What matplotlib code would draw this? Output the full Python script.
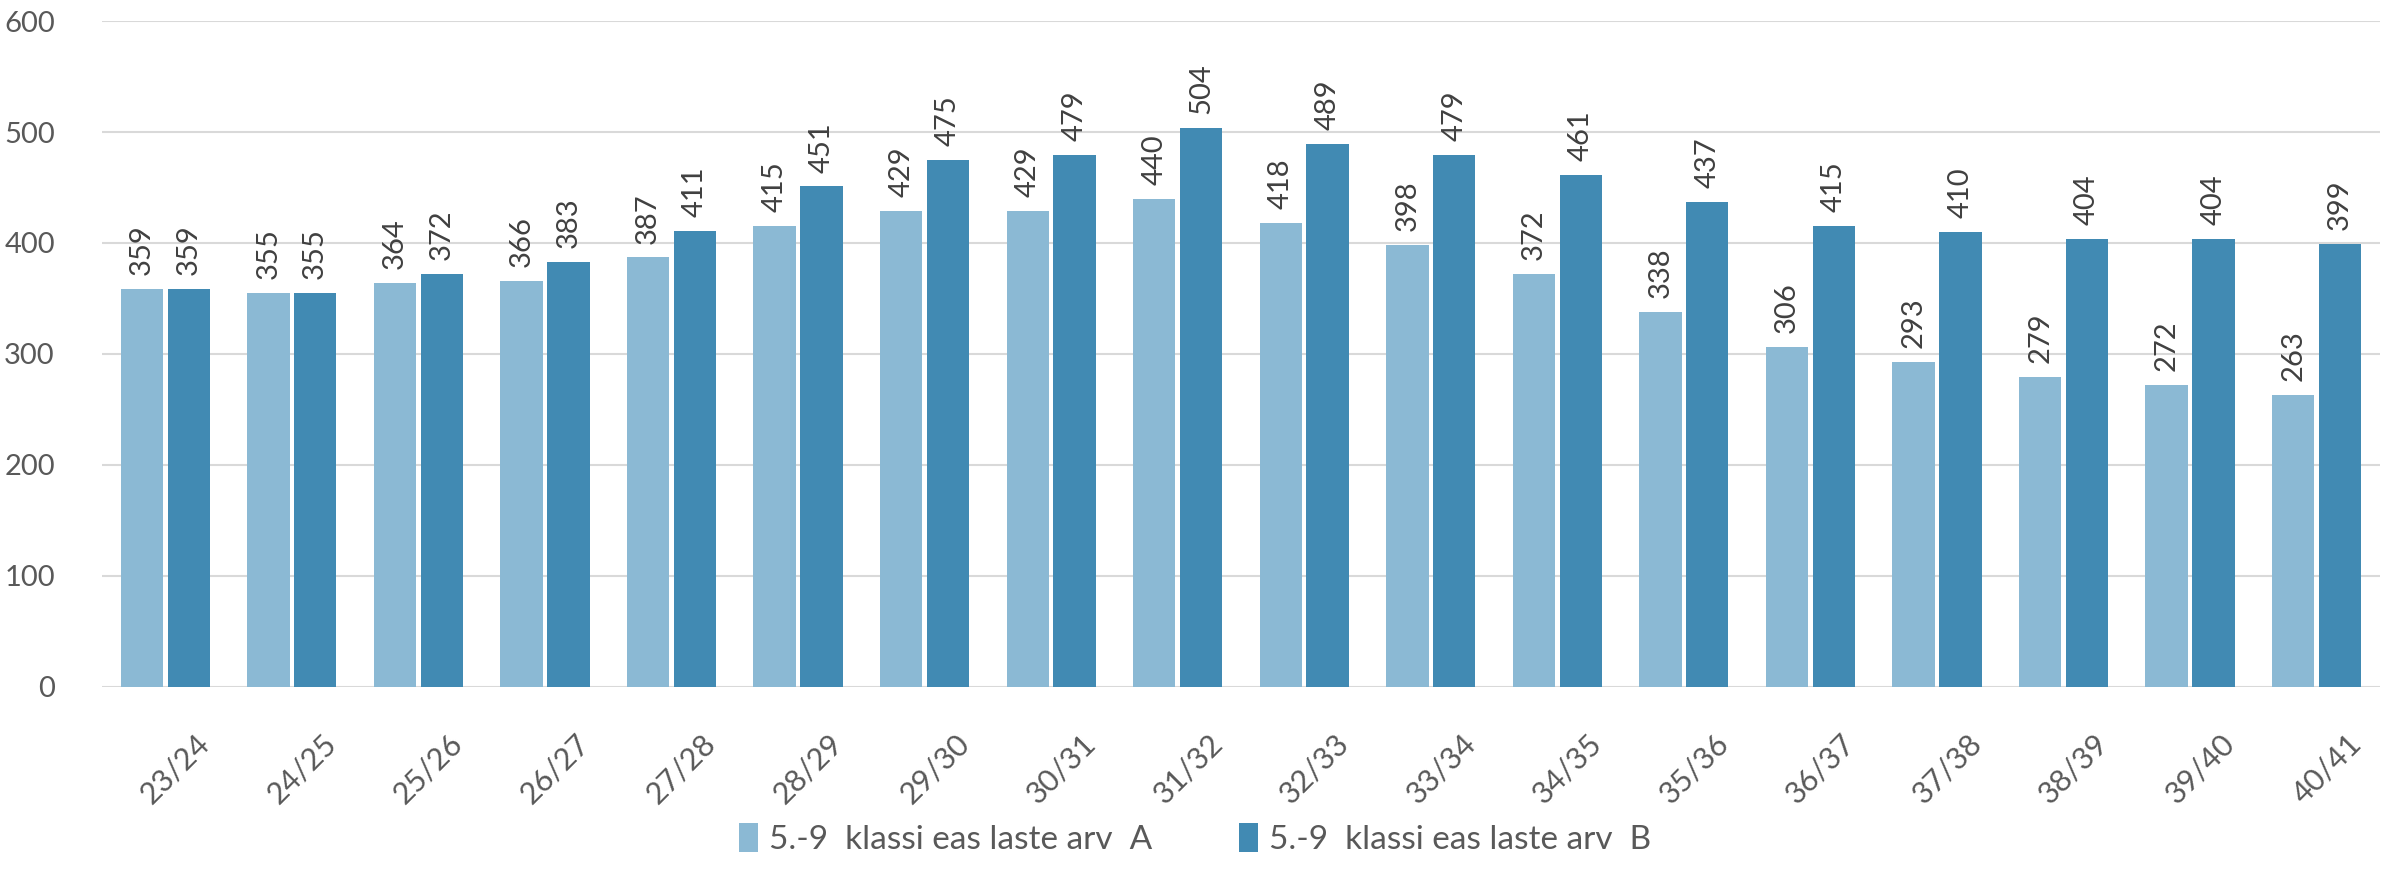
import numpy as np
import matplotlib
matplotlib.use("Agg")
import matplotlib.pyplot as plt
import matplotlib.transforms as mtransforms

# data
categories = ["23/24", "24/25", "25/26", "26/27", "27/28", "28/29", "29/30", "30/31", "31/32",
              "32/33", "33/34", "34/35", "35/36", "36/37", "37/38", "38/39", "39/40", "40/41"]
series_a = [359, 355, 364, 366, 387, 415, 429, 429, 440, 418, 398, 372, 338, 306, 293, 279, 272, 263]
series_b = [359, 355, 372, 383, 411, 451, 475, 479, 504, 489, 479, 461, 437, 415, 410, 404, 404, 399]
label_a = "5.-9  klassi eas laste arv  A"
label_b = "5.-9  klassi eas laste arv  B"

plt.rcParams['font.family'] = ['Lato', 'DejaVu Sans']
text_color = '#595959'

fig = plt.figure(figsize=(23.95, 8.72), dpi=100)
ax = fig.add_axes([0.0426, 0.2122, 0.9511, 0.7637])

x = np.arange(len(categories))
w = 0.335
off = 0.185
bars_a = ax.bar(x - off, series_a, width=w, color='#8BB9D4', label=label_a, zorder=3)
bars_b = ax.bar(x + off, series_b, width=w, color='#418AB3', label=label_b, zorder=3)

for bars in (bars_a, bars_b):
    for b in bars:
        ax.annotate(str(int(b.get_height())), (b.get_x() + b.get_width() / 2, b.get_height()),
                    xytext=(0, 10), textcoords='offset points', rotation=90,
                    ha='center', va='bottom', fontsize=21, color='#404040')

ax.set_ylim(0, 600)
ax.set_xlim(-0.5, len(categories) - 0.5)
ax.set_yticks(range(0, 601, 100))
ax.grid(axis='y', color='#D9D9D9', linewidth=1.5, zorder=0)
for s in ax.spines.values():
    s.set_visible(False)
ax.tick_params(axis='both', length=0, labelsize=21, colors=text_color)
ax.tick_params(axis='y', pad=34)
ax.set_xticks(x)
ax.set_xticklabels(categories, rotation=45, ha='right', rotation_mode='anchor', fontsize=22)
ax.tick_params(axis='x', pad=30)
shift = mtransforms.ScaledTranslation(30 / 100, 0, fig.dpi_scale_trans)
for lbl in ax.get_xticklabels():
    lbl.set_transform(lbl.get_transform() + shift)

ax.legend(loc='center', bbox_to_anchor=(0.48, -0.228), ncol=2, frameon=False,
          fontsize=24, labelcolor=text_color, handlelength=0.55, handleheight=1.0,
          handletextpad=0.35, columnspacing=2.6)

fig.savefig("out.png", dpi=100)
